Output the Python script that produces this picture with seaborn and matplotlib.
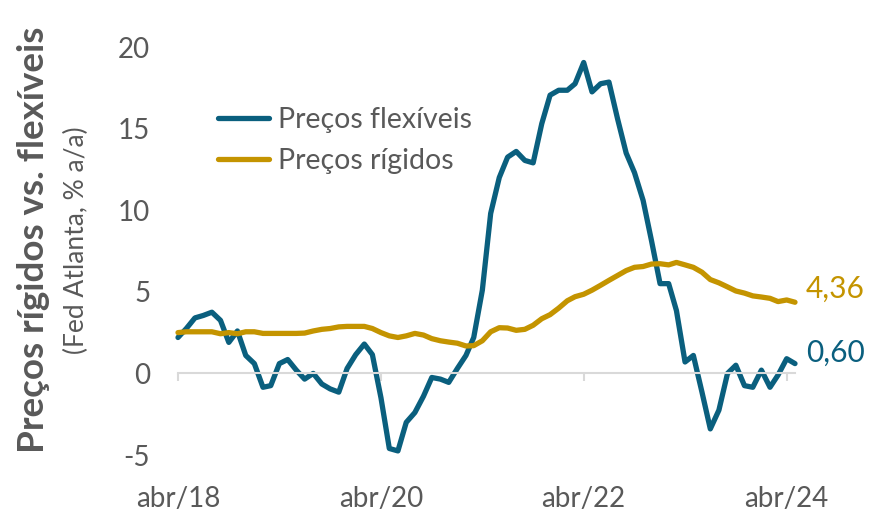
import matplotlib.pyplot as plt
import numpy as np
import pandas as pd
import seaborn as sns

# dados mensais, abr/18 a mai/24 (Fed Atlanta, % a/a)
meses = pd.date_range('2018-04-01', periods=74, freq='MS')
flexiveis = [2.2, 2.75, 3.4, 3.55, 3.75, 3.25, 1.9, 2.6, 1.1, 0.6,
             -0.85, -0.75, 0.6, 0.85, 0.2, -0.35, 0.0, -0.65, -0.95, -1.15,
             0.3, 1.15, 1.8, 1.15, -1.5, -4.6, -4.75, -3.0, -2.4, -1.4,
             -0.25, -0.35, -0.55, 0.3, 1.1, 2.2, 5.1, 9.8, 12.0, 13.25,
             13.6, 13.05, 12.9, 15.3, 17.05, 17.35, 17.35, 17.75, 19.05, 17.25,
             17.75, 17.85, 15.6, 13.5, 12.3, 10.6, 8.15, 5.5, 5.5, 3.85,
             0.7, 1.1, -1.15, -3.4, -2.25, 0.0, 0.5, -0.75, -0.85, 0.2,
             -0.85, -0.1, 0.9, 0.6]
rigidos = [2.5, 2.55, 2.55, 2.55, 2.55, 2.43, 2.5, 2.43, 2.55, 2.55,
           2.45, 2.45, 2.45, 2.45, 2.45, 2.47, 2.6, 2.7, 2.75, 2.85,
           2.88, 2.88, 2.88, 2.75, 2.5, 2.3, 2.2, 2.3, 2.45, 2.35,
           2.13, 2.0, 1.92, 1.85, 1.68, 1.7, 2.0, 2.55, 2.8, 2.78,
           2.64, 2.7, 2.95, 3.35, 3.6, 4.0, 4.45, 4.7, 4.85, 5.1,
           5.4, 5.7, 6.0, 6.3, 6.5, 6.55, 6.7, 6.72, 6.65, 6.8,
           6.65, 6.5, 6.2, 5.75, 5.55, 5.3, 5.05, 4.92, 4.75, 4.68,
           4.6, 4.4, 4.5, 4.36]
series = ['Preços flexíveis', 'Preços rígidos']
cores = {'Preços flexíveis': '#0a5f7e', 'Preços rígidos': '#c49400'}
ticks_x = meses[[0, 24, 48, 72]]
rotulos_x = ['abr/18', 'abr/20', 'abr/22', 'abr/24']
ticks_y = [-5, 0, 5, 10, 15, 20]

df = pd.DataFrame({'mes': meses, series[0]: flexiveis, series[1]: rigidos})
df = df.melt(id_vars='mes', var_name='serie', value_name='valor')

sns.set_theme(style='white')
plt.rcParams['font.family'] = ['Lato', 'DejaVu Sans']
plt.rcParams['axes.unicode_minus'] = False
cinza = '#595959'

fig = plt.figure(figsize=(8.71, 5.12), dpi=100)
ax = fig.add_axes([178 / 871, 1 - 455 / 512, 617 / 871, 408 / 512])

sns.lineplot(data=df, x='mes', y='valor', hue='serie', hue_order=series,
             palette=cores, linewidth=3.8, ax=ax)
for ln in ax.lines:
    ln.set_solid_capstyle('round')
    ln.set_clip_on(False)

ax.set_xlim(meses[0], meses[-1])
ax.set_ylim(-5, 20)
ax.set_xlabel('')
ax.set_ylabel('')

for s in ['top', 'right', 'left']:
    ax.spines[s].set_visible(False)
ax.spines['bottom'].set_position(('data', 0))
ax.spines['bottom'].set_color('#d9d9d9')
ax.spines['bottom'].set_linewidth(1.5)

ax.set_xticks(ticks_x)
ax.set_xticklabels(rotulos_x)
ax.tick_params(axis='x', direction='out', length=6, width=1.5, color='#d9d9d9',
               labelcolor=cinza, labelsize=20, pad=75, bottom=True)
ax.set_yticks(ticks_y)
ax.set_yticklabels([str(t) for t in ticks_y])
ax.tick_params(axis='y', length=0, labelcolor=cinza, labelsize=20, pad=20)

handles, labels = ax.get_legend_handles_labels()
leg = ax.legend(handles, labels, loc='upper left', bbox_to_anchor=(218 / 871, 1 - 107 / 512),
                bbox_transform=fig.transFigure, frameon=False, fontsize=20.5,
                handlelength=1.8, handletextpad=0.3, labelspacing=0.52,
                borderpad=0, borderaxespad=0, labelcolor=cinza)
for h in leg.get_lines():
    h.set_linewidth(3.8)
    h.set_solid_capstyle('round')

ult = {series[0]: flexiveis[-1], series[1]: rigidos[-1]}
desloc = {series[0]: 8, series[1]: 10}
for s in series:
    ax.annotate(f'{ult[s]:.2f}'.replace('.', ','), xy=(meses[-1], ult[s]),
                xytext=(8, desloc[s]), textcoords='offset points',
                ha='left', va='center', color=cores[s], fontsize=21.5,
                annotation_clip=False)

fig.text(34 / 871, 1 - 240 / 512, 'Preços rígidos vs. flexíveis', rotation=90,
         ha='center', va='center', fontsize=26.5, fontweight='bold', color=cinza)
fig.text(76 / 871, 1 - 240 / 512, '(Fed Atlanta, % a/a)', rotation=90,
         ha='center', va='center', fontsize=19, color=cinza)

fig.savefig('out.png', dpi=100)
